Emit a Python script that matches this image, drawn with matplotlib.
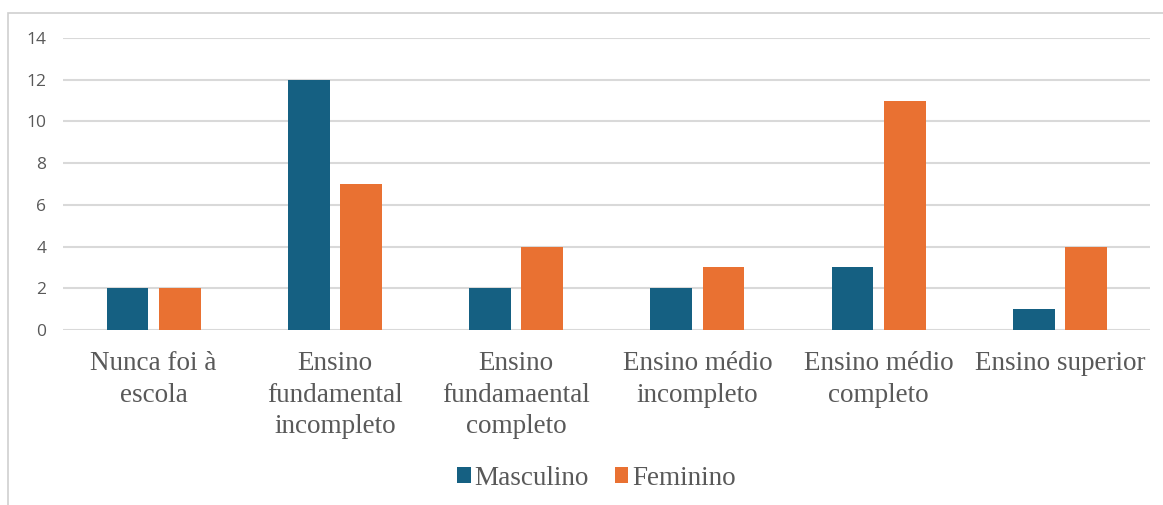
import matplotlib
matplotlib.use("Agg")
import matplotlib.pyplot as plt
import numpy as np
from matplotlib.patches import Rectangle

# ── Data ──────────────────────────────────────────────────────────────────────
categories = [
    "Nunca foi à\nescola",
    "Ensino\nfundamental\nincompleto",
    "Ensino\nfundamaental\ncompleto",
    "Ensino médio\nincompleto",
    "Ensino médio\ncompleto",
    "Ensino superior",
]
masculino = [2, 12, 2, 2, 3, 1]
feminino = [2, 7, 4, 3, 11, 4]
y_ticks = [0, 2, 4, 6, 8, 10, 12, 14]

blue = "#156082"
orange = "#E97132"
text_gray = "#595959"
grid_gray = "#d9d9d9"

# ── Plot ──────────────────────────────────────────────────────────────────────
fig = plt.figure(figsize=(11.63, 5.05), dpi=100)
ax = fig.add_axes([0.0542, 0.3465, 0.935, 0.5783])

x = np.arange(len(categories))
bar_w = 0.23
ax.bar(x - 0.144, masculino, width=bar_w, color=blue, label="Masculino", zorder=3)
ax.bar(x + 0.144, feminino, width=bar_w, color=orange, label="Feminino", zorder=3)

ax.set_xlim(-0.5, len(categories) - 0.5)
ax.set_ylim(0, 14)
ax.set_yticks(y_ticks)
ax.set_yticklabels([str(v) for v in y_ticks], fontsize=12.5,
                   family="Open Sans", color=text_gray)
ax.set_xticks(x)
ax.set_xticklabels(categories, fontsize=19.5, family="Liberation Serif",
                   color=text_gray, linespacing=1.35)
ax.tick_params(axis="x", length=0, pad=15)
ax.tick_params(axis="y", length=0, pad=12)
ax.grid(axis="y", color=grid_gray, linewidth=1.5, zorder=0)
for s in ax.spines.values():
    s.set_visible(False)

leg = fig.legend(loc="center", bbox_to_anchor=(0.513, 0.053), ncol=2,
                 frameon=False, prop={"family": "Liberation Serif", "size": 19.5},
                 handlelength=0.5, handleheight=0.5, handletextpad=0.15,
                 columnspacing=0.95)
for t in leg.get_texts():
    t.set_color(text_gray)

# outer chart frame (cropped at right/bottom)
fig.add_artist(Rectangle((8 / 1163, -0.1), 1.2, 1 - 13 / 505 + 0.1,
                         transform=fig.transFigure, fill=False,
                         edgecolor="#cfcfcf", linewidth=1.2))

fig.savefig("out.png", dpi=100)
